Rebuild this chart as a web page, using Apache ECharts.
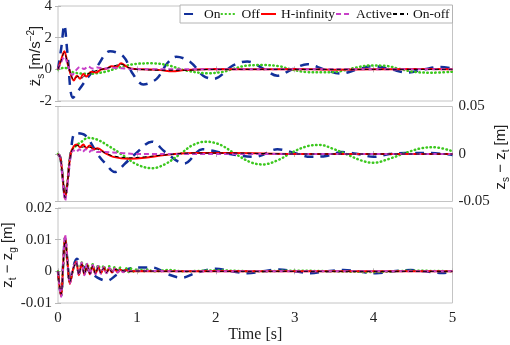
<!DOCTYPE html>
<html lang="en">
<head>
    <meta charset="UTF-8">
    <title>Suspension response</title>
    <script src="https://cdn.jsdelivr.net/npm/echarts@6.0.0/dist/echarts.min.js"></script>
    <style>
        body { margin: 0; background: #fff; }
        #main { width: 510px; height: 345px; }
    </style>
</head>
<body>
    <div id="main"></div>
    <script type="text/javascript">
        // legend names, drawn in this order
        const names = ['On', 'Off', 'H-infinity', 'Active', 'On-off'];

        // body acceleration [m/s^-2]
        const accOn = [[0,0],[0.04,1.3],[0.08,2.8],[0.12,1.0],[0.19,-1.8],[0.28,-1.2],[0.38,-0.5],[0.49,0.15],[0.66,1.15],[0.83,0.8],[0.95,-0.3],[1.08,-0.95],[1.25,-0.6],[1.38,0.35],[1.5,0.8],[1.68,0.45],[1.84,-0.4],[1.97,-0.6],[2.22,0.25],[2.4,0.5],[2.6,0.05],[2.78,-0.4],[2.97,0],[3.16,0.32],[3.37,0],[3.58,-0.27],[3.8,0],[4.0,0.2],[4.22,0],[4.43,-0.2],[4.64,0],[4.85,0.15],[5,0.05]];
        const accOff = [[0,0],[0.08,0.1],[0.2,-0.2],[0.4,-0.28],[0.6,-0.15],[0.8,0.15],[1.0,0.35],[1.2,0.38],[1.4,0.25],[1.6,-0.05],[1.9,-0.25],[2.1,-0.15],[2.2,0],[2.4,0.24],[2.6,0.27],[2.8,0.2],[2.95,0],[3.15,-0.17],[3.35,-0.19],[3.55,-0.14],[3.75,0.08],[3.95,0.24],[4.15,0.22],[4.35,0],[4.55,-0.18],[4.75,-0.21],[5,-0.15]];
        const accHinf = [[0,0],[0.04,0.6],[0.08,1.15],[0.12,0.4],[0.16,-0.3],[0.2,-0.7],[0.24,-0.4],[0.28,-0.6],[0.32,-0.3],[0.36,-0.45],[0.42,-0.15],[0.48,-0.2],[0.55,0],[0.62,0.05],[0.68,0.2],[0.74,0.15],[0.8,0.38],[0.86,0.2],[0.92,0.05],[1.1,0],[1.3,-0.05],[1.45,-0.12],[1.6,-0.05],[2.0,0.02],[2.5,0],[3.0,0.02],[3.5,-0.02],[4.0,0],[4.5,0.02],[5,0]];
        const accActive = [[0,0],[0.04,0.45],[0.08,0.8],[0.13,0.2],[0.18,-0.35],[0.23,-0.05],[0.28,0.15],[0.33,0.02],[0.38,0.18],[0.44,0.05],[0.5,0.12],[0.58,0.05],[0.7,0.1],[0.9,0.03],[1.2,0],[2,0],[3,0],[4,0],[5,0]];
        const accOnoff = [[0,0],[0.04,0.55],[0.08,1.05],[0.12,0.45],[0.16,-0.25],[0.2,-0.65],[0.25,-0.45],[0.3,-0.55],[0.35,-0.35],[0.42,-0.2],[0.5,-0.05],[0.6,0.05],[0.7,0.2],[0.8,0.32],[0.9,0.1],[1.0,0],[1.4,-0.06],[1.6,-0.06],[2,0],[3,0],[4,0],[5,0]];

        // suspension deflection zs - zt [m]
        const defOn = [[0,0],[0.03,-0.004],[0.06,-0.025],[0.09,-0.045],[0.12,-0.03],[0.16,0.0],[0.22,0.022],[0.34,0.02],[0.5,0],[0.6,-0.01],[0.72,-0.019],[0.85,-0.01],[0.98,0],[1.19,0.013],[1.36,0.002],[1.6,-0.01],[1.83,0.005],[2.1,0.001],[2.5,-0.003],[2.78,0.005],[3.0,0.001],[3.2,-0.003],[3.4,-0.002],[3.6,0.002],[3.8,0.0],[4.0,-0.003],[4.2,0],[4.4,0.001],[4.7,0.001],[5,-0.001]];
        const defOff = [[0,0],[0.03,-0.004],[0.06,-0.025],[0.09,-0.045],[0.12,-0.03],[0.16,0.0],[0.22,0.008],[0.3,0.013],[0.38,0.017],[0.5,0.015],[0.65,0.008],[0.8,0],[1.0,-0.011],[1.19,-0.015],[1.35,-0.011],[1.55,0],[1.7,0.009],[1.87,0.013],[2.05,0.01],[2.25,0],[2.45,-0.009],[2.6,-0.011],[2.8,-0.006],[2.95,0.001],[3.15,0.008],[3.32,0.0096],[3.5,0.005],[3.65,0],[3.85,-0.007],[4.0,-0.0093],[4.2,-0.005],[4.4,0.001],[4.6,0.006],[4.76,0.0071],[5,0.003]];
        const defHinf = [[0,0],[0.03,-0.004],[0.06,-0.025],[0.09,-0.047],[0.12,-0.03],[0.16,0.0],[0.2,0.008],[0.24,0.01],[0.28,0.007],[0.32,0.01],[0.36,0.006],[0.4,0.009],[0.45,0.005],[0.5,0.006],[0.6,0.001],[0.7,-0.003],[0.9,-0.005],[1.1,-0.004],[1.35,-0.001],[1.7,0.001],[2.2,0.001],[3,0],[4,0],[5,0]];
        const defActive = [[0,0],[0.03,-0.004],[0.06,-0.027],[0.09,-0.049],[0.12,-0.032],[0.16,-0.002],[0.19,0.004],[0.23,0.002],[0.27,0.005],[0.31,0.002],[0.35,0.005],[0.39,0.002],[0.43,0.004],[0.5,0.002],[0.6,0.002],[0.8,0.001],[1.0,0],[5,0]];
        const defOnoff = [[0,0],[0.03,-0.004],[0.06,-0.025],[0.09,-0.046],[0.12,-0.03],[0.16,0.0],[0.2,0.007],[0.25,0.009],[0.3,0.007],[0.35,0.008],[0.4,0.007],[0.5,0.005],[0.6,0.001],[0.7,-0.002],[0.9,-0.004],[1.1,-0.003],[1.35,-0.001],[1.7,0.001],[2.2,0.001],[3,0],[4,0],[5,0]];

        // tyre deflection zt - zg [m]
        const tyreOn = [[0,0],[0.02,-0.005],[0.04,-0.0075],[0.065,0.002],[0.09,0.0105],[0.12,0.003],[0.15,-0.0035],[0.19,0.001],[0.24,0.004],[0.3,0.002],[0.4,0],[0.5,-0.002],[0.62,-0.003],[0.75,-0.001],[0.9,0.0008],[1.05,0.0012],[1.2,0.0012],[1.4,-0.001],[1.57,-0.002],[1.75,-0.0005],[2.0,0.0008],[2.2,0],[2.4,-0.0006],[2.6,0],[2.8,0.0006],[3.0,0],[3.2,-0.0006],[3.4,0],[3.62,0.0004],[3.8,0],[4.03,-0.0006],[4.25,0],[4.47,0.0004],[4.65,0],[4.87,-0.0005],[5,-0.0002]];
        const tyreOff = [[0,0],[0.02,-0.005],[0.04,-0.0075],[0.065,0.002],[0.09,0.0105],[0.12,0.003],[0.15,-0.0035],[0.19,0.0005],[0.23,0.003],[0.265,-0.0008],[0.3,0.0028],[0.335,-0.0006],[0.37,0.0025],[0.405,-0.0005],[0.44,0.0022],[0.475,-0.0005],[0.51,0.002],[0.545,-0.0004],[0.58,0.0018],[0.615,-0.0004],[0.65,0.0016],[0.685,-0.0003],[0.72,0.0014],[0.755,-0.0003],[0.79,0.0012],[0.825,-0.0003],[0.86,0.001],[0.895,-0.0002],[0.93,0.0009],[0.965,-0.0002],[1.0,0.0008],[1.035,-0.0002],[1.07,0.0007],[1.105,-0.0001],[1.14,0.0006],[1.2,0],[1.4,0.0004],[1.6,0],[2,0.0003],[2.5,0],[3,0.0002],[3.5,0],[4,-0.0002],[4.5,0.0002],[5,0]];
        const tyreHinf = [[0,0],[0.02,-0.005],[0.04,-0.0078],[0.065,0.002],[0.09,0.011],[0.12,0.003],[0.15,-0.004],[0.19,0.0005],[0.23,0.003],[0.265,-0.0012],[0.3,0.0025],[0.335,-0.001],[0.37,0.002],[0.405,-0.0009],[0.44,0.0017],[0.475,-0.0008],[0.51,0.0014],[0.545,-0.0006],[0.58,0.0012],[0.615,-0.0005],[0.65,0.001],[0.685,-0.0004],[0.72,0.0008],[0.755,-0.0003],[0.79,0.0006],[0.825,-0.0002],[0.86,0.0004],[0.9,0],[1.0,0.0001],[1.5,0],[2,0.0001],[3,0],[4,0],[5,0]];
        const tyreActive = [[0,0],[0.02,-0.005],[0.04,-0.008],[0.065,0.002],[0.09,0.0115],[0.12,0.003],[0.15,-0.0038],[0.19,0.0008],[0.23,0.0032],[0.265,-0.0013],[0.3,0.0028],[0.335,-0.0012],[0.37,0.0024],[0.405,-0.001],[0.44,0.002],[0.475,-0.0009],[0.51,0.0017],[0.545,-0.0008],[0.58,0.0014],[0.615,-0.0006],[0.65,0.0011],[0.685,-0.0005],[0.72,0.0009],[0.755,-0.0004],[0.79,0.0007],[0.825,-0.0003],[0.86,0.0005],[0.9,0],[1.0,0.0002],[1.5,0],[2,0],[3,0],[4,0],[5,0]];
        const tyreOnoff = [[0,0],[0.02,-0.0045],[0.04,-0.0072],[0.065,0.002],[0.09,0.0098],[0.12,0.003],[0.15,-0.0033],[0.19,0.0005],[0.23,0.0028],[0.265,-0.001],[0.3,0.0022],[0.335,-0.0009],[0.37,0.0019],[0.405,-0.0008],[0.44,0.0016],[0.475,-0.0007],[0.51,0.0013],[0.545,-0.0005],[0.58,0.001],[0.615,-0.0004],[0.65,0.0008],[0.685,-0.0003],[0.72,0.0006],[0.79,0.0003],[0.9,0],[1.0,0.0001],[1.5,0],[2,0],[3,0],[4,0],[5,0]];

        const panels = [
          [accOn, accOff, accHinf, accActive, accOnoff],
          [defOn, defOff, defHinf, defActive, defOnoff],
          [tyreOn, tyreOff, tyreHinf, tyreActive, tyreOnoff],
        ];

        // y axis titles (rich text tokens: sub = subscript, sup = superscript)
        const yTitles = [
          '{m|z\u0308}{sub|s}{m| [m/s}{sup|\u22122}{m|]}',
          '{m|z}{sub|s}{m| \u2212 z}{sub|t}{m| [m]}',
          '{m|z}{sub|t}{m| \u2212 z}{sub|g}{m| [m]}',
        ];

        // line look for each controller
        const lineLooks = [
          { color: '#12309a', width: 2.5, type: [9, 7], cap: 'butt' },
          { color: '#3cc81e', width: 2.5, type: [0.5, 3.5], cap: 'round' },
          { color: '#ff0000', width: 2, type: 'solid', cap: 'butt' },
          { color: '#c840c8', width: 2, type: [5, 3], cap: 'butt' },
          { color: '#000000', width: 1, type: [4, 3], cap: 'butt' },
        ];

        const serif = "'Liberation Serif', 'Times New Roman', serif";
        const sans = "'Liberation Sans', Arial, sans-serif";
        const gridBoxes = [
          { top: 6, height: 95 },
          { top: 106.5, height: 95 },
          { top: 208, height: 95 },
        ];
        // where each y title sits (centre) on the canvas
        const titleSpots = [[36, 56], [501, 157], [8, 255]];
        const tickStyle = { inside: true, length: 3, lineStyle: { color: '#b8b8b8' } };
        const labelStyle = { fontFamily: serif, fontSize: 15, color: '#222' };
        const titleRich = {
          m: { fontFamily: sans, fontSize: 15, fill: '#222', lineHeight: 20 },
          sub: { fontFamily: sans, fontSize: 10, fill: '#222', lineHeight: 10, verticalAlign: 'bottom' },
          sup: { fontFamily: sans, fontSize: 10, fill: '#222', lineHeight: 10, verticalAlign: 'top' },
        };

        const grids = gridBoxes.map(g => ({
          left: 58, right: 57.5, top: g.top, height: g.height,
          outerBoundsMode: 'none', containLabel: false,
          show: true, borderColor: '#c4c4c4', borderWidth: 1, backgroundColor: '#fff',
        }));

        const xAxes = [];
        for (let i = 0; i < 3; i++) {
          xAxes.push({
            type: 'value', gridIndex: i, min: 0, max: 5, interval: 1, position: 'bottom',
            axisLine: { show: false }, splitLine: { show: false }, axisTick: tickStyle,
            axisLabel: Object.assign({ show: i === 2, margin: 8 }, labelStyle),
            name: i === 2 ? 'Time [s]' : '', nameLocation: 'middle', nameGap: 24,
            nameMoveOverlap: false,
            nameTextStyle: { fontFamily: serif, fontSize: 16, color: '#222' },
          });
        }
        for (let i = 0; i < 3; i++) {
          xAxes.push({
            type: 'value', gridIndex: i, min: 0, max: 5, interval: 1, position: 'top',
            axisLine: { show: false }, splitLine: { show: false }, axisTick: tickStyle,
            axisLabel: { show: false },
          });
        }

        const yRanges = [
          { min: -2, max: 4, interval: 2, side: 'left' },
          { min: -0.05, max: 0.05, interval: 0.05, side: 'right' },
          { min: -0.01, max: 0.02, interval: 0.01, side: 'left' },
        ];
        const yAxes = [];
        yRanges.forEach((r, i) => {
          yAxes.push({
            type: 'value', gridIndex: i, min: r.min, max: r.max, interval: r.interval,
            position: r.side, axisLine: { show: false }, splitLine: { show: false },
            axisTick: tickStyle, axisLabel: Object.assign({ margin: 6 }, labelStyle),
          });
        });
        yRanges.forEach((r, i) => {
          yAxes.push({
            type: 'value', gridIndex: i, min: r.min, max: r.max, interval: r.interval,
            position: r.side === 'left' ? 'right' : 'left',
            axisLine: { show: false }, splitLine: { show: false },
            axisTick: tickStyle, axisLabel: { show: false },
          });
        });

        const titles = yTitles.map((t, i) => ({
          type: 'text', x: titleSpots[i][0], y: titleSpots[i][1], rotation: Math.PI / 2,
          style: { text: t, rich: titleRich, align: 'center', verticalAlign: 'middle',
                   fontFamily: sans, fontSize: 15, fill: '#222' },
        }));

        const series = [];
        panels.forEach((panel, p) => {
          panel.forEach((data, k) => {
            const look = lineLooks[k];
            series.push({
              name: names[k], type: 'line', data: data,
              xAxisIndex: p, yAxisIndex: p,
              symbol: 'none', smooth: 0.35, animation: false, z: 2 + k,
              lineStyle: { color: look.color, width: look.width, type: look.type, cap: look.cap },
              itemStyle: { color: look.color },
            });
          });
        });

        const option = {
          animation: false,
          textStyle: { fontFamily: serif },
          grid: grids,
          xAxis: xAxes,
          yAxis: yAxes,
          graphic: titles,
          legend: {
            data: names, right: 57.5, top: 5,
            itemWidth: 15, itemHeight: 12, itemGap: 0,
            padding: [2, 3, 2, 3],
            backgroundColor: '#fff', borderColor: '#b4b4b4', borderWidth: 1,
            itemStyle: { opacity: 0, borderWidth: 0 },
            textStyle: { fontFamily: serif, fontSize: 13.5, color: '#111' },
          },
          series: series,
        };

        const myChart = echarts.init(document.getElementById('main'));
        myChart.setOption(option);
    </script>
</body>
</html>
